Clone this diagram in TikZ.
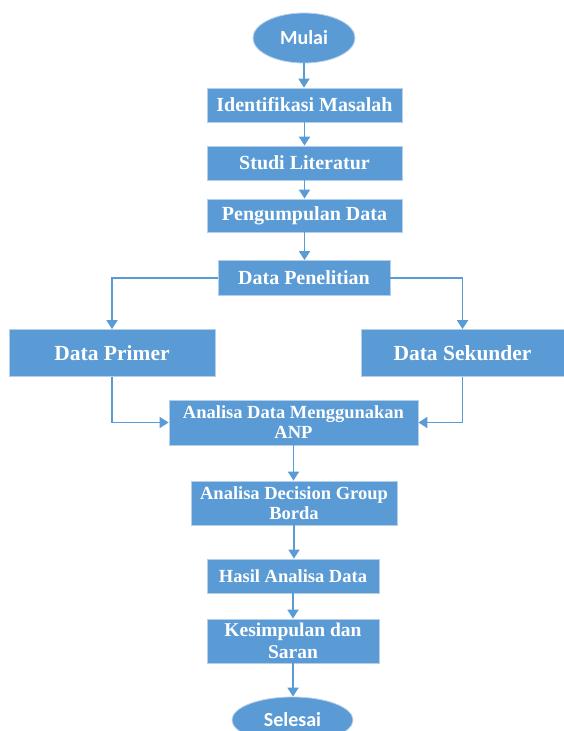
\documentclass[tikz,border=0pt]{standalone}
\usepackage{fontspec}
\setmainfont{Liberation Serif}
\newfontfamily\ovalfont{Carlito}
\usetikzlibrary{arrows.meta,shapes.geometric}
\definecolor{boxblue}{HTML}{5B9BD5}
\definecolor{boxedge}{HTML}{B4CFEA}
\tikzset{
  box/.style={rectangle, fill=boxblue, draw=boxedge, line width=0.8pt, text=white,
    align=center, inner sep=0pt, font=\bfseries\fontsize{20}{20}\selectfont},
  bigbox/.style={box, font=\bfseries\fontsize{21.5}{22}\selectfont},
  smallbox/.style={box, font=\bfseries\fontsize{18.5}{20}\selectfont},
  oval/.style={ellipse, fill=boxblue, draw=boxedge, line width=0.8pt, text=white,
    inner sep=0pt, font=\ovalfont\bfseries\fontsize{20}{20}\selectfont},
  flow/.style={draw=boxblue, line width=1.8pt, -{Triangle[width=11pt,length=9pt]}}
}
\begin{document}
\begin{tikzpicture}[x=1pt,y=-1pt]
\useasboundingbox (0,0) rectangle (564,731);
\clip (0,0) rectangle (564,731);
\node[oval, minimum width=102pt, minimum height=50pt] (mulai) at (304,38) {Mulai};
\node[box, minimum width=195pt, minimum height=34pt] (ident) at (304.5,105) {Identifikasi Masalah};
\node[box, minimum width=195pt, minimum height=34pt] (studi) at (304.5,163) {Studi Literatur};
\node[box, minimum width=195pt, minimum height=33pt] (peng) at (304.5,215.5) {Pengumpulan Data};
\node[box, minimum width=172pt, minimum height=35pt] (pen) at (304,278) {Data Penelitian};
\node[bigbox, minimum width=206pt, minimum height=47pt] (prim) at (112,353) {Data Primer};
\node[bigbox, minimum width=203pt, minimum height=47pt] (sek) at (462.5,353) {Data Sekunder};
\node[smallbox, minimum width=249pt, minimum height=45pt] (anp) at (293.5,422.5) {Analisa Data Menggunakan\\ANP};
\node[smallbox, minimum width=206pt, minimum height=44pt] (borda) at (294,503) {Analisa Decision Group\\Borda};
\node[smallbox, minimum width=172pt, minimum height=34pt] (hasil) at (293,576) {Hasil Analisa Data};
\node[box, font=\bfseries\fontsize{19.5}{22}\selectfont, minimum width=172pt, minimum height=44pt] (kes) at (293,641) {Kesimpulan dan\\Saran};
\node[oval, minimum width=121pt, minimum height=46pt] (selesai) at (292.5,720) {\raisebox{1.5pt}{Selesai}};

\draw[flow] (mulai.south) -- (mulai.south |- ident.north);
\draw[flow] (ident) -- (studi);
\draw[flow] (studi) -- (peng);
\draw[flow] (peng.south) -- (peng.south |- pen.north);
\draw[flow] (pen.west) -| (prim.north);
\draw[flow] (pen.east) -| (sek.north);
\draw[flow] (prim.south) |- (anp.west);
\draw[flow] (sek.south) |- (anp.east);
\draw[flow] (anp.south) -- (anp.south |- borda.north);
\draw[flow] (borda.south) -- (borda.south |- hasil.north);
\draw[flow] (hasil) -- (kes);
\draw[flow] (kes.south) -- (kes.south |- selesai.north);
\end{tikzpicture}
\end{document}
